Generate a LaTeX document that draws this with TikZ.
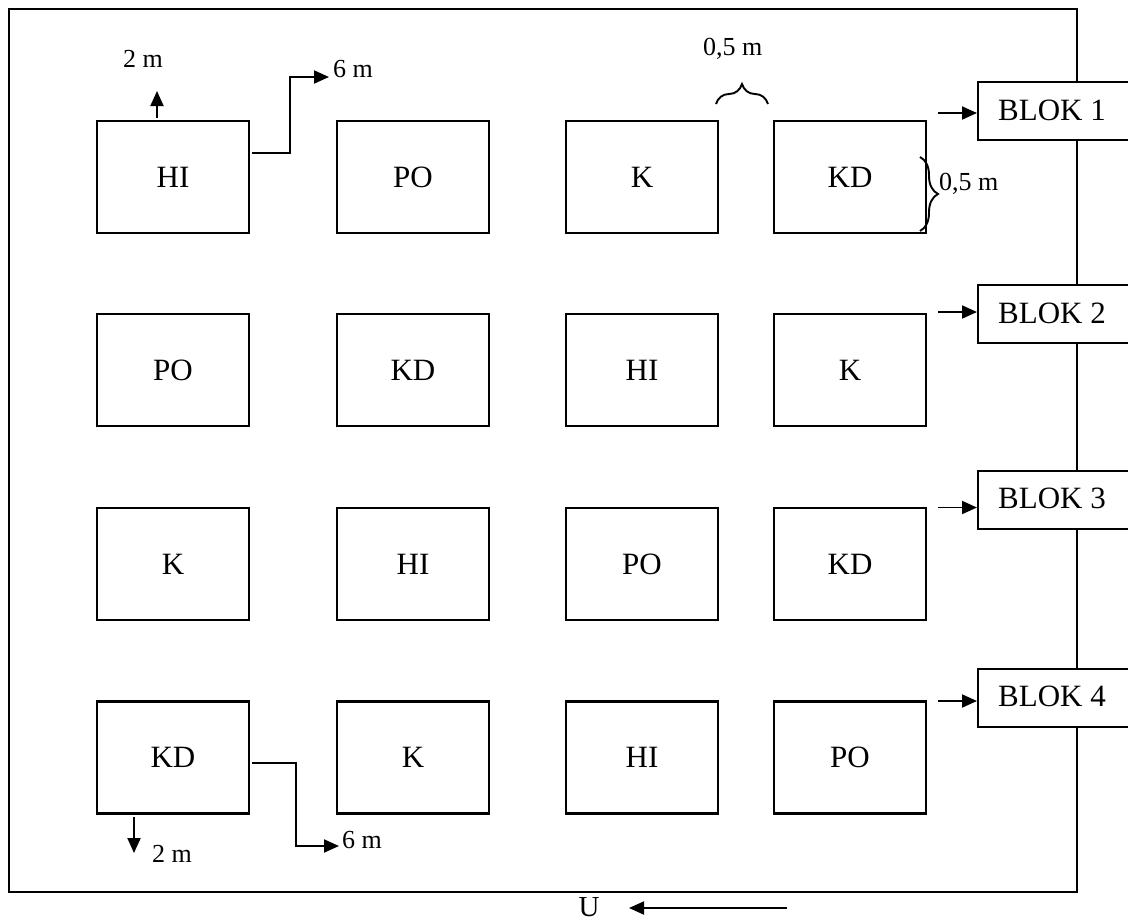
\documentclass[tikz,border=0pt]{standalone}
\usepackage{fontspec}
\setmainfont{Liberation Serif}
\usetikzlibrary{arrows.meta,decorations.pathreplacing}
\begin{document}
\begin{tikzpicture}[x=1pt,y=-1pt,
  plot/.style={draw,line width=2.4pt,minimum width=152pt,minimum height=112pt,inner sep=0pt,font=\fontsize{31}{36}\selectfont},
  blok/.style={draw,fill=white,line width=2pt,minimum width=160pt,minimum height=58pt,inner sep=0pt,anchor=north west},
  bloktxt/.style={font=\fontsize{31}{36}\selectfont,inner sep=0pt},
  lbl/.style={font=\fontsize{26}{30}\selectfont,inner sep=0pt,anchor=base west},
  arr/.style={line width=1.9pt,-{Triangle[length=15pt,width=13pt]}},
  brc/.style={line width=1.9pt,decorate,decoration={brace,amplitude=#1}}]
\useasboundingbox (0,0) rectangle (1128,922);
\clip (0,0) rectangle (1128,922);
\fill[white] (0,0) rectangle (1128,922);
% outer frame
\draw[line width=2.8pt] (9,9) rectangle (1077,892);
% plots
\node[plot] (p11) at (173,177) {HI};
\node[plot] (p12) at (413,177) {PO};
\node[plot] (p13) at (642,177) {K};
\node[plot] (p14) at (850,177) {KD};
\node[plot] (p21) at (173,370) {PO};
\node[plot] (p22) at (413,370) {KD};
\node[plot] (p23) at (642,370) {HI};
\node[plot] (p24) at (850,370) {K};
\node[plot] (p31) at (173,564) {K};
\node[plot] (p32) at (413,564) {HI};
\node[plot] (p33) at (642,564) {PO};
\node[plot] (p34) at (850,564) {KD};
\node[plot] (p41) at (173,757.5) {KD};
\node[plot] (p42) at (413,757.5) {K};
\node[plot] (p43) at (642,757.5) {HI};
\node[plot] (p44) at (850,757.5) {PO};
% blocks
\node[blok] (b1) at (977,81) {};
\node[blok] (b2) at (977,284) {};
\node[blok] (b3) at (977,469.5) {};
\node[blok] (b4) at (977,667.5) {};
\node[bloktxt] (t1) at (1052,110) {BLOK 1};
\node[bloktxt] (t2) at (1052,313) {BLOK 2};
\node[bloktxt] (t3) at (1052,498.5) {BLOK 3};
\node[bloktxt] (t4) at (1052,696.5) {BLOK 4};
\coordinate (s1) at (938,113);
\coordinate (s2) at (938,312);
\coordinate (s3) at (938,507.5);
\coordinate (s4) at (938,701);
\draw[arr] (s1) -- (s1 -| b1.west);
\draw[arr] (s2) -- (s2 -| b2.west);
\draw[arr] (s3) -- (s3 -| b3.west);
\draw[arr] (s4) -- (s4 -| b4.west);
% top-left annotations
\coordinate (u1) at (157,118);
\coordinate (u2) at (157,91);
\draw[arr] (u1) -- (u2);
\node[lbl] (l1) at (123,67) {2 m};
\coordinate (e1) at (252,153);
\coordinate (e2) at (329,77);
\draw[arr] (e1) -- (290,153) -- (290,77) -- (e2);
\node[lbl] (l2) at (333,77) {6 m};
% bottom-left annotations
\coordinate (d1) at (134,817);
\coordinate (d2) at (134,853);
\draw[arr] (d1) -- (d2);
\node[lbl] (l3) at (152,862) {2 m};
\coordinate (f1) at (252,763);
\coordinate (f2) at (339,846);
\draw[arr] (f1) -- (296,763) -- (296,846) -- (f2);
\node[lbl] (l4) at (342,848) {6 m};
% braces
\coordinate (g1) at (716,104);
\coordinate (g2) at (768,104);
\draw[brc=20pt] (g1) -- (g2);
\node[lbl] (l5) at (703,55) {0,5 m};
\coordinate (h1) at (920,157);
\coordinate (h2) at (920,231);
\draw[brc=18pt] (h1) -- (h2);
\node[lbl] (l6) at (939,190) {0,5 m};
% north
\node[font=\fontsize{29}{33}\selectfont,inner sep=0pt,anchor=base] (U) at (589,916) {U};
\coordinate (n1) at (787,908);
\coordinate (n2) at (629,908);
\draw[arr] (n1) -- (n2);
\end{tikzpicture}
\end{document}
